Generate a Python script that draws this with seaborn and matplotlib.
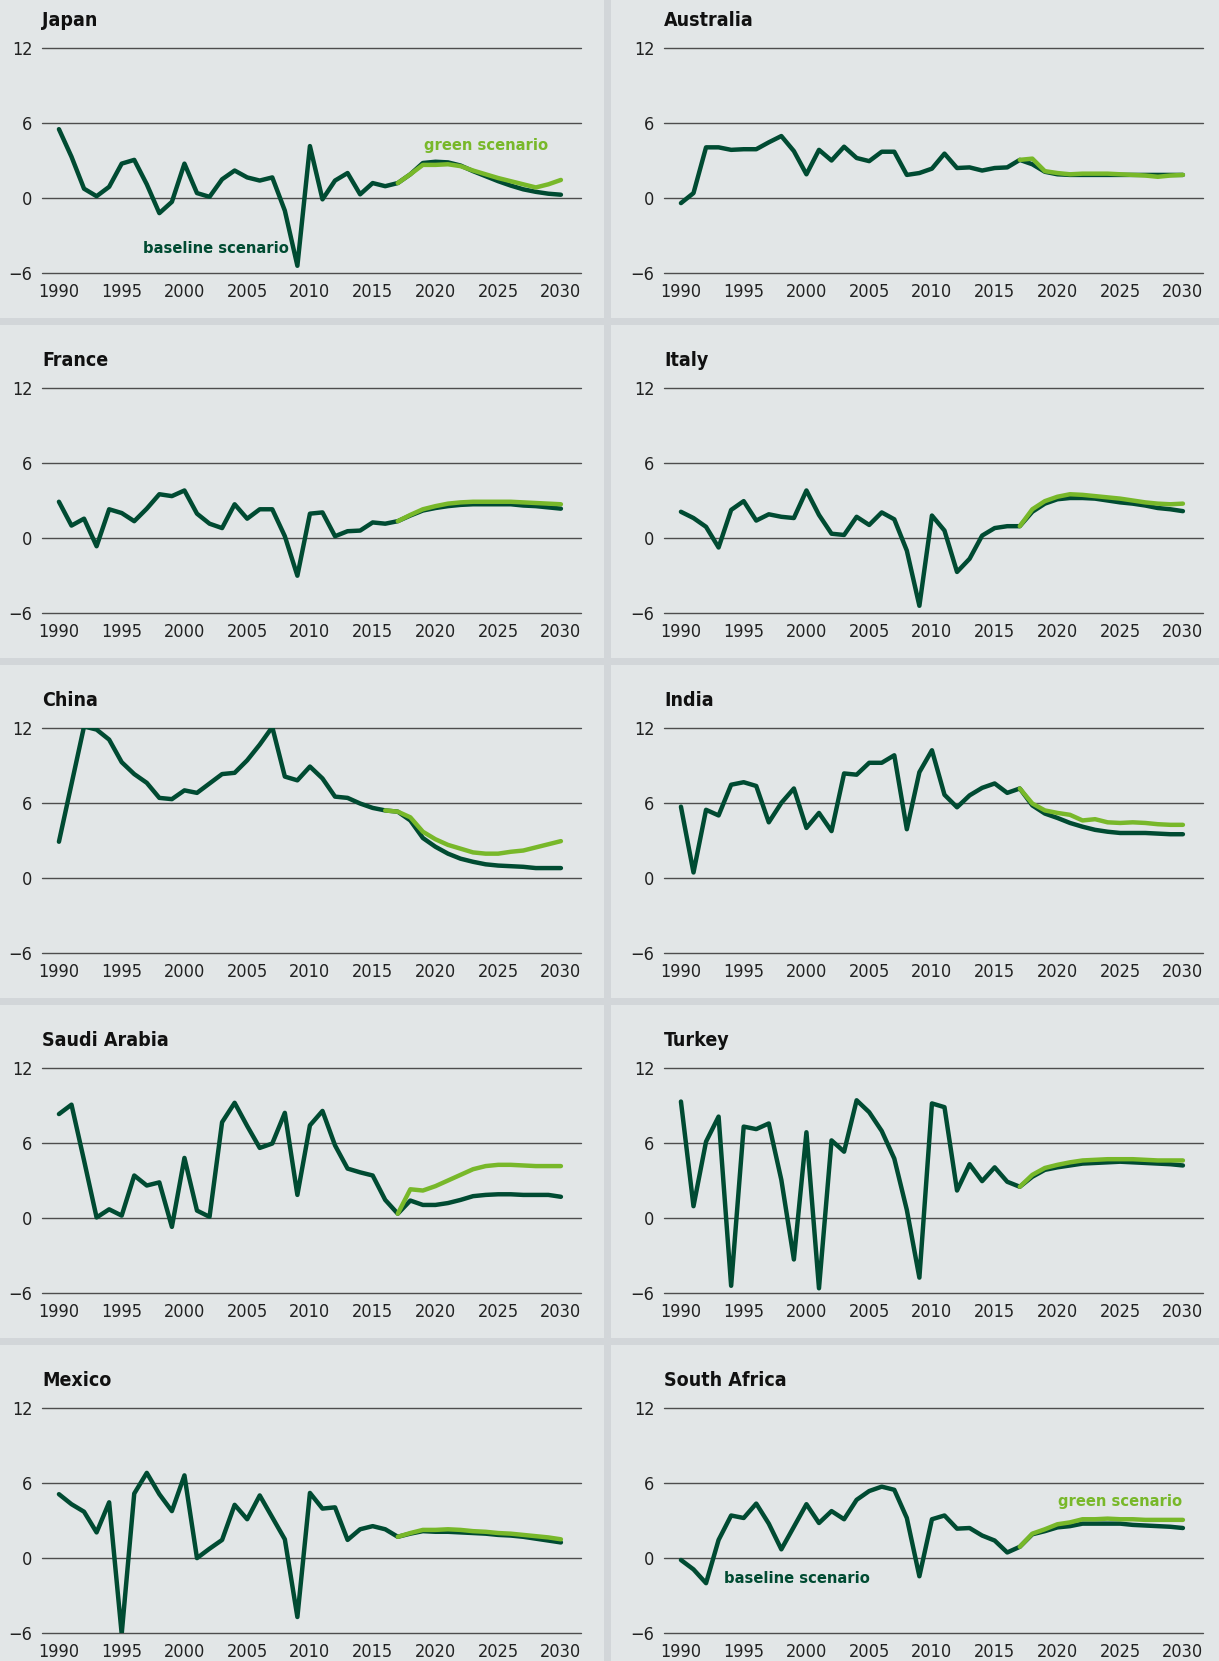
import numpy as np
import pandas as pd
import matplotlib
matplotlib.use('Agg')
import matplotlib.pyplot as plt
from matplotlib.patches import Rectangle
import seaborn as sns

years = list(range(1990, 2031))
countries = ['Japan', 'Australia', 'France', 'Italy', 'China', 'India',
             'Saudi Arabia', 'Turkey', 'Mexico', 'South Africa']

# baseline scenario, 1990-2030
japan_base = [5.5, 3.3, 0.75, 0.15, 0.9, 2.75, 3.05, 1.1, -1.2, -0.3, 2.75, 0.4, 0.1, 1.5,
              2.2, 1.65, 1.4, 1.65, -1.0, -5.4, 4.15, -0.1, 1.4, 2.0, 0.3, 1.2, 0.95, 1.2,
              1.9, 2.8, 2.9, 2.85, 2.6, 2.15, 1.75, 1.35, 1.0, 0.7, 0.5, 0.35, 0.27]
australia_base = [-0.4, 0.4, 4.05, 4.05, 3.85, 3.9, 3.9, 4.45, 4.95, 3.75, 1.9, 3.85, 3.0, 4.1,
                  3.2, 2.95, 3.7, 3.7, 1.85, 2.0, 2.35, 3.55, 2.4, 2.45, 2.2, 2.4, 2.45, 3.05,
                  2.7, 2.1, 1.9, 1.85, 1.85, 1.85, 1.85, 1.85, 1.85, 1.85, 1.85, 1.85, 1.85]
france_base = [2.9, 1.0, 1.55, -0.65, 2.3, 2.0, 1.35, 2.35, 3.5, 3.35, 3.8, 1.95, 1.15, 0.8,
               2.7, 1.55, 2.3, 2.3, 0.15, -3.0, 1.95, 2.05, 0.15, 0.55, 0.6, 1.25, 1.15, 1.35,
               1.8, 2.2, 2.4, 2.55, 2.65, 2.7, 2.7, 2.7, 2.7, 2.6, 2.55, 2.45, 2.35]
italy_base = [2.1, 1.6, 0.9, -0.75, 2.25, 2.95, 1.4, 1.9, 1.7, 1.6, 3.8, 1.85, 0.35, 0.25,
              1.7, 1.05, 2.05, 1.5, -1.0, -5.4, 1.8, 0.6, -2.7, -1.65, 0.2, 0.8, 0.95, 0.95,
              2.1, 2.75, 3.1, 3.2, 3.2, 3.15, 3.0, 2.85, 2.75, 2.6, 2.4, 2.3, 2.15]
china_base = [2.9, 7.5, 12.1, 11.85, 11.05, 9.25, 8.3, 7.6, 6.4, 6.3, 7.0, 6.8, 7.55, 8.3,
              8.4, 9.4, 10.65, 12.05, 8.1, 7.8, 8.9, 7.95, 6.5, 6.4, 5.95, 5.6, 5.4, 5.3,
              4.6, 3.2, 2.5, 1.95, 1.55, 1.3, 1.1, 1.0, 0.95, 0.9, 0.8, 0.8, 0.8]
india_base = [5.7, 0.45, 5.45, 5.0, 7.45, 7.65, 7.35, 4.45, 6.0, 7.15, 4.0, 5.2, 3.75, 8.35,
              8.25, 9.2, 9.2, 9.8, 3.9, 8.45, 10.2, 6.65, 5.65, 6.6, 7.2, 7.55, 6.8, 7.15,
              5.8, 5.15, 4.8, 4.4, 4.1, 3.85, 3.7, 3.6, 3.6, 3.6, 3.55, 3.5, 3.5]
saudi_base = [8.3, 9.05, 4.6, 0.05, 0.7, 0.2, 3.4, 2.6, 2.85, -0.7, 4.8, 0.6, 0.1, 7.65,
              9.2, 7.35, 5.6, 5.95, 8.4, 1.85, 7.4, 8.55, 5.8, 3.95, 3.65, 3.4, 1.45, 0.35,
              1.4, 1.05, 1.05, 1.2, 1.45, 1.75, 1.85, 1.9, 1.9, 1.85, 1.85, 1.85, 1.7]
turkey_base = [9.3, 0.95, 6.1, 8.1, -5.4, 7.3, 7.1, 7.55, 3.05, -3.3, 6.85, -5.6, 6.2, 5.3,
               9.4, 8.45, 6.95, 4.75, 0.65, -4.75, 9.15, 8.85, 2.2, 4.3, 2.95, 4.05, 2.9, 2.5,
               3.3, 3.85, 4.05, 4.2, 4.35, 4.4, 4.45, 4.5, 4.45, 4.4, 4.35, 4.3, 4.2]
mexico_base = [5.1, 4.3, 3.7, 2.05, 4.45, -6.05, 5.15, 6.8, 5.1, 3.75, 6.6, 0.0, 0.75, 1.45,
               4.25, 3.1, 5.0, 3.25, 1.5, -4.7, 5.2, 3.95, 4.05, 1.45, 2.3, 2.55, 2.3, 1.7,
               1.95, 2.15, 2.1, 2.1, 2.05, 2.0, 1.95, 1.85, 1.8, 1.7, 1.55, 1.4, 1.25]
safrica_base = [-0.15, -0.9, -2.0, 1.45, 3.4, 3.2, 4.35, 2.75, 0.7, 2.5, 4.3, 2.8, 3.75, 3.1,
                4.65, 5.35, 5.7, 5.45, 3.2, -1.45, 3.1, 3.4, 2.35, 2.4, 1.8, 1.4, 0.45, 0.9,
                1.9, 2.15, 2.45, 2.55, 2.75, 2.75, 2.75, 2.75, 2.65, 2.6, 2.55, 2.5, 2.4]

# green scenario, from its first year to 2030
green_start = [2017, 2017, 2017, 2017, 2016, 2017, 2017, 2017, 2017, 2017]
japan_green = [1.2, 1.9, 2.65, 2.65, 2.7, 2.55, 2.2, 1.9, 1.6, 1.35, 1.1, 0.85, 1.1, 1.45]
australia_green = [3.05, 3.15, 2.15, 2.0, 1.9, 1.95, 1.95, 1.95, 1.9, 1.85, 1.8, 1.7, 1.8, 1.85]
france_green = [1.35, 1.85, 2.3, 2.55, 2.75, 2.85, 2.9, 2.9, 2.9, 2.9, 2.85, 2.8, 2.75, 2.7]
italy_green = [0.95, 2.3, 2.95, 3.3, 3.5, 3.45, 3.35, 3.25, 3.15, 3.0, 2.85, 2.75, 2.7, 2.75]
china_green = [5.4, 5.3, 4.85, 3.7, 3.1, 2.65, 2.35, 2.05, 1.95, 1.95, 2.1, 2.2, 2.45, 2.7, 2.95]
india_green = [7.15, 5.95, 5.4, 5.2, 5.05, 4.6, 4.7, 4.45, 4.4, 4.45, 4.4, 4.3, 4.25, 4.25]
saudi_green = [0.35, 2.3, 2.2, 2.55, 3.0, 3.45, 3.9, 4.15, 4.25, 4.25, 4.2, 4.15, 4.15, 4.15]
turkey_green = [2.5, 3.45, 4.0, 4.25, 4.45, 4.6, 4.65, 4.7, 4.7, 4.7, 4.65, 4.6, 4.6, 4.6]
mexico_green = [1.7, 2.0, 2.25, 2.25, 2.3, 2.25, 2.15, 2.1, 2.0, 1.95, 1.85, 1.75, 1.65, 1.5]
safrica_green = [0.9, 1.95, 2.3, 2.7, 2.85, 3.1, 3.1, 3.15, 3.1, 3.1, 3.05, 3.05, 3.05, 3.05]

baseline = [japan_base, australia_base, france_base, italy_base, china_base,
            india_base, saudi_base, turkey_base, mexico_base, safrica_base]
green = [japan_green, australia_green, france_green, italy_green, china_green,
         india_green, saudi_green, turkey_green, mexico_green, safrica_green]

y_ticks = [-6, 0, 6, 12]
x_ticks = list(range(1990, 2031, 5))

DARK = '#004b32'
LIGHT = '#78b82a'
PANEL = '#e2e6e7'
SEP = '#d2d6d9'

sns.set_style('white')
plt.rcParams['font.family'] = ['DejaVu Sans']
plt.rcParams['font.stretch'] = 'condensed'

W, H = 1219, 1661
fig = plt.figure(figsize=(W / 100, H / 100), dpi=100, facecolor=SEP)


def px_rect(x0, y0, x1, y1):
    # pixel box (top-left origin) -> figure fraction rect
    return [x0 / W, 1 - y1 / H, (x1 - x0) / W, (y1 - y0) / H]


col_panel = [(0, 604), (611, W)]
col_axes = [(42, 581), (664, 1203)]

for k, name in enumerate(countries):
    row, col = divmod(k, 2)
    top = max(0, row * 340 - 15)
    bot = min(H, row * 340 + 318)
    r = px_rect(col_panel[col][0], top, col_panel[col][1], bot)
    fig.add_artist(Rectangle((r[0], r[1]), r[2], r[3], transform=fig.transFigure,
                             facecolor=PANEL, edgecolor='none', zorder=0))

    ax = fig.add_axes(px_rect(col_axes[col][0], row * 340 + 47.7,
                              col_axes[col][1], row * 340 + 273.3))
    ax.set_facecolor('none')
    for v in y_ticks:
        ax.axhline(v, color='#4d4d4d', lw=1.0, clip_on=False, zorder=1)

    df = pd.DataFrame({'year': years, 'value': baseline[k]})
    sns.lineplot(data=df, x='year', y='value', ax=ax, color=DARK, lw=3.2,
                 legend=False, zorder=3)
    gy = list(range(green_start[k], 2031))
    dg = pd.DataFrame({'year': gy, 'value': green[k]})
    sns.lineplot(data=dg, x='year', y='value', ax=ax, color=LIGHT, lw=3.2,
                 legend=False, zorder=4)

    ax.set_xlim(1988.65, 2031.6)
    ax.set_ylim(-6, 12)
    ax.set_xticks(x_ticks)
    ax.set_yticks(y_ticks)
    ax.set_xlabel('')
    ax.set_ylabel('')
    for s in ax.spines.values():
        s.set_visible(False)
    ax.tick_params(axis='both', length=0, labelsize=13, colors='#222222')
    ax.tick_params(axis='x', pad=7)
    ax.tick_params(axis='y', pad=7)
    ax.set_yticklabels(['\u22126', '0', '6', '12'])

    fig.text(col_axes[col][0] / W, 1 - (row * 340 + 26) / H, name,
             fontsize=14, fontweight='bold', color='#111111', ha='left', va='baseline')

    if name == 'Japan':
        ax.text(2024.0, 4.2, 'green scenario', color=LIGHT, fontsize=11.8,
                fontweight='bold', ha='center', va='center')
        ax.text(2002.5, -4.05, 'baseline scenario', color=DARK, fontsize=11.8,
                fontweight='bold', ha='center', va='center')
    if name == 'South Africa':
        ax.text(2029.9, 4.55, 'green scenario', color=LIGHT, fontsize=11.8,
                fontweight='bold', ha='right', va='center')
        ax.text(1993.45, -1.6, 'baseline scenario', color=DARK, fontsize=11.8,
                fontweight='bold', ha='left', va='center')

fig.savefig('out.png', dpi=100, facecolor=SEP)
